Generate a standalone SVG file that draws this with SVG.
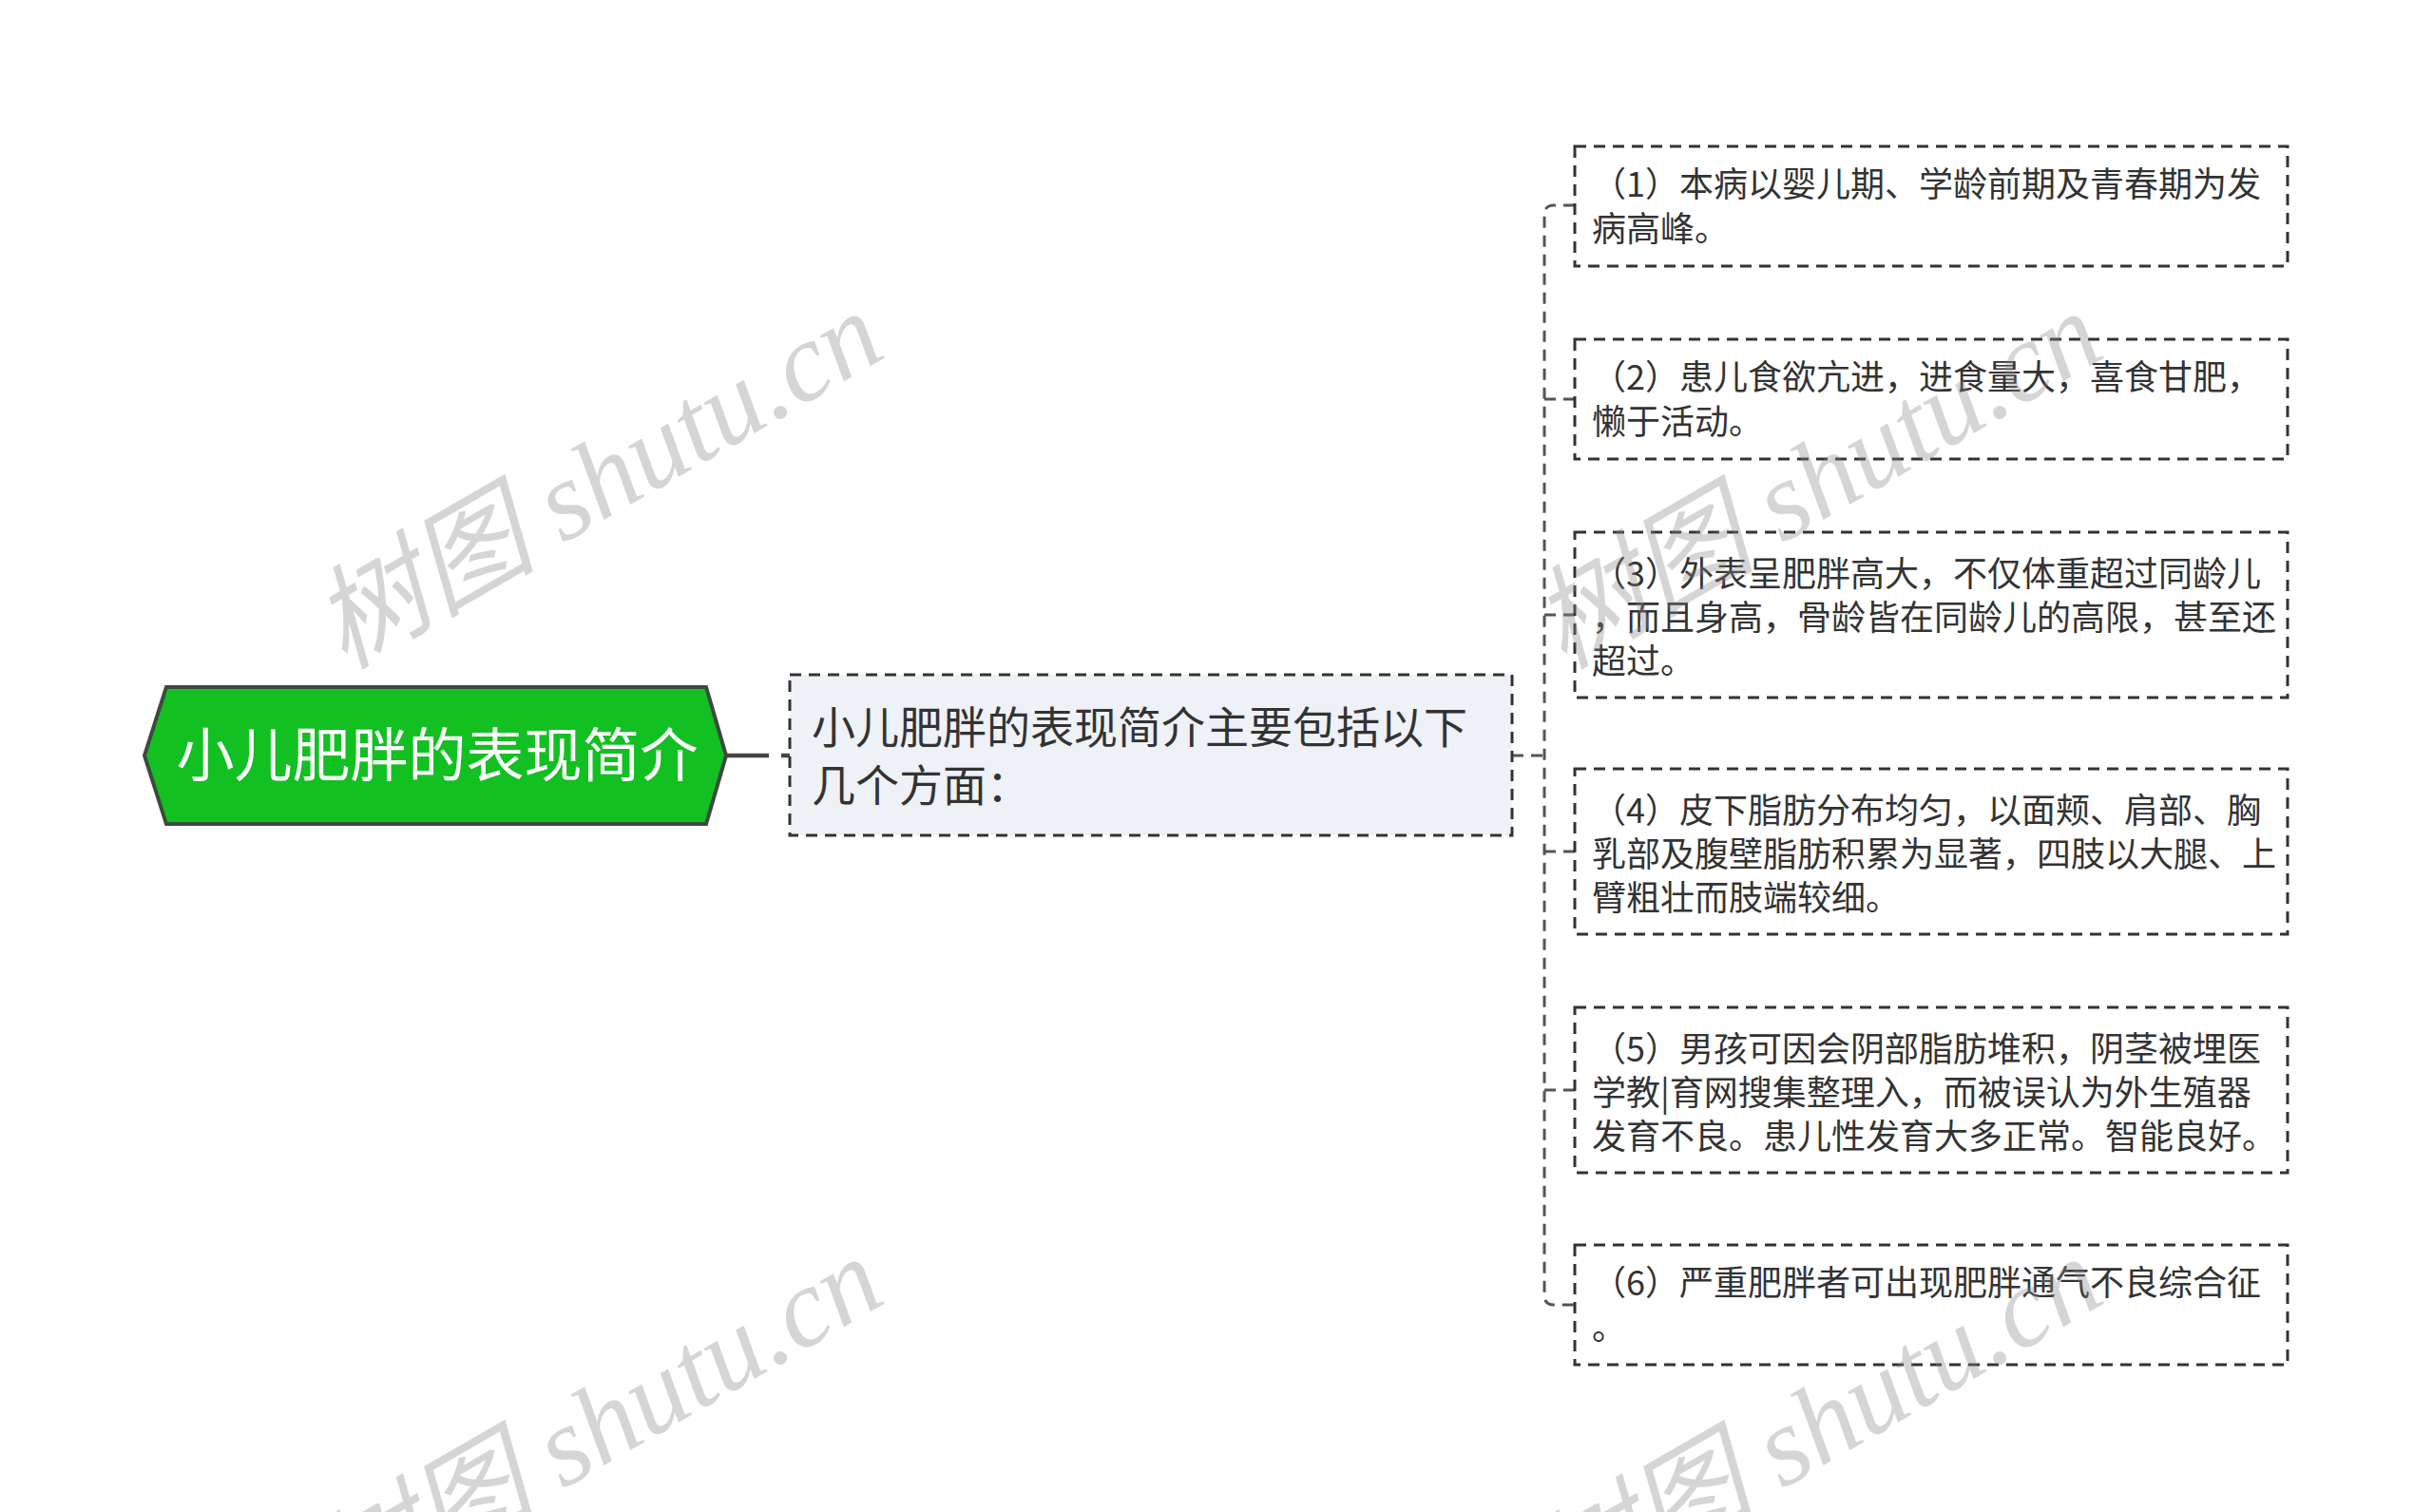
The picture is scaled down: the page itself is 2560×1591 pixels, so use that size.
<svg xmlns="http://www.w3.org/2000/svg" width="2560" height="1591" viewBox="0 0 2560 1591">
<style>
.t{font-family:"Noto Sans CJK SC","Noto Sans",sans-serif;fill:#333;}
.leaf{fill:#fff;stroke:#333;stroke-width:3;stroke-dasharray:12 8;}
.conn{fill:none;stroke:#555;stroke-width:3;stroke-dasharray:12 8;}
.wm{font-family:"Liberation Serif","Noto Sans CJK SC",serif;font-style:italic;font-size:118px;fill:#888;fill-opacity:0.35;}
</style>
<rect width="2560" height="1591" fill="#fff"/>
<g id="connectors">
<path d="M764,795 H831" fill="none" stroke="#444" stroke-width="4.5" stroke-dasharray="45 13"/>
<path class="conn" d="M1591,795 H1625"/>
<path class="conn" d="M1657,216 H1635 Q1625,216 1625,226 V1363 Q1625,1373 1635,1373 H1657"/>
<path class="conn" d="M1625,420 H1657"/>
<path class="conn" d="M1625,647 H1657"/>
<path class="conn" d="M1625,896 H1657"/>
<path class="conn" d="M1625,1147 H1657"/>
</g>
<g id="root">
<polygon points="152,795 175,723 743,723 764,795 743,867 175,867" fill="#13C022" stroke="#3d4a3e" stroke-width="4"/>
<text x="460" y="817" text-anchor="middle" class="t" style="fill:#fff;font-size:61px">小儿肥胖的表现简介</text>
</g>
<g id="mid">
<rect x="831" y="710" width="760" height="169" fill="#eef1f5" stroke="#333" stroke-width="3" stroke-dasharray="12 8"/>
<text class="t" style="font-size:46px"><tspan x="854" y="782">小儿肥胖的表现简介主要包括以下</tspan><tspan x="854" y="843">几个方面：</tspan></text>
</g>
<g id="n1">
<rect class="leaf" x="1657" y="154" width="750" height="126"/>
<text class="t" style="font-size:36px"><tspan x="1675" y="207">（1）本病以婴儿期、学龄前期及青春期为发</tspan><tspan x="1675" y="254">病高峰。</tspan></text>
</g>
<g id="n2">
<rect class="leaf" x="1657" y="357" width="750" height="126"/>
<text class="t" style="font-size:36px"><tspan x="1675" y="410">（2）患儿食欲亢进，进食量大，喜食甘肥，</tspan><tspan x="1675" y="457">懒于活动。</tspan></text>
</g>
<g id="n3">
<rect class="leaf" x="1657" y="560" width="750" height="174"/>
<text class="t" style="font-size:36px"><tspan x="1675" y="617">（3）外表呈肥胖高大，不仅体重超过同龄儿</tspan><tspan x="1675" y="663">，而且身高，骨龄皆在同龄儿的高限，甚至还</tspan><tspan x="1675" y="709">超过。</tspan></text>
</g>
<g id="n4">
<rect class="leaf" x="1657" y="809" width="750" height="174"/>
<text class="t" style="font-size:36px"><tspan x="1675" y="866">（4）皮下脂肪分布均匀，以面颊、肩部、胸</tspan><tspan x="1675" y="912">乳部及腹壁脂肪积累为显著，四肢以大腿、上</tspan><tspan x="1675" y="958">臂粗壮而肢端较细。</tspan></text>
</g>
<g id="n5">
<rect class="leaf" x="1657" y="1060" width="750" height="174"/>
<text class="t" style="font-size:36px"><tspan x="1675" y="1117">（5）男孩可因会阴部脂肪堆积，阴茎被埋医</tspan><tspan x="1675" y="1163">学教|育网搜集整理入，而被误认为外生殖器</tspan><tspan x="1675" y="1209">发育不良。患儿性发育大多正常。智能良好。</tspan></text>
</g>
<g id="n6">
<rect class="leaf" x="1657" y="1310" width="750" height="126"/>
<text class="t" style="font-size:36px"><tspan x="1675" y="1363">（6）严重肥胖者可出现肥胖通气不良综合征</tspan><tspan x="1675" y="1410">。</tspan></text>
</g>
<g id="watermarks">
<text class="wm" transform="translate(362,705) rotate(-30)">树图 shutu.cn</text>
<text class="wm" transform="translate(1645,705) rotate(-30)">树图 shutu.cn</text>
<text class="wm" transform="translate(362,1700) rotate(-30)">树图 shutu.cn</text>
<text class="wm" transform="translate(1645,1700) rotate(-30)">树图 shutu.cn</text>
</g>
</svg>
